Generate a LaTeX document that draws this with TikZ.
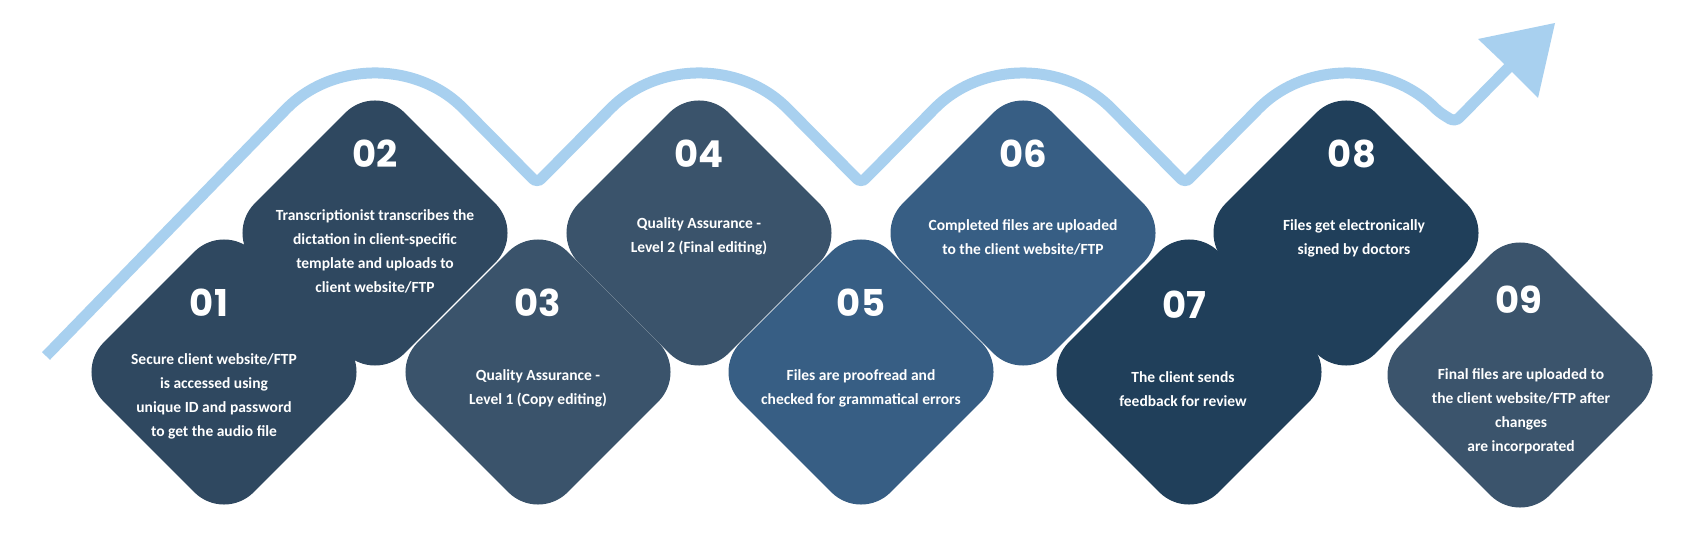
\documentclass[tikz,border=0pt]{standalone}
\usepackage{fontspec}
\setmainfont{Carlito}
\newfontfamily\numfont{Poppins}
\definecolor{cA}{HTML}{2F4860}
\definecolor{cB}{HTML}{3A536B}
\definecolor{cC}{HTML}{375E84}
\definecolor{cD}{HTML}{203F5A}
\definecolor{cE}{HTML}{3B546C}
\definecolor{wave}{HTML}{A8D0EF}
\begin{document}
\begin{tikzpicture}[x=1pt,y=-1pt,
  dia/.style={rectangle,rotate=45,minimum size=212pt,inner sep=0pt,rounded corners=42pt,draw=none},
  num/.style={text=white,font=\numfont\bfseries\fontsize{37}{40}\selectfont},
  txt/.style={text=white,align=center,font=\bfseries\fontsize{15.5}{24}\selectfont}]
\useasboundingbox (0,0) rectangle (1704,537);
\fill[white] (0,0) rectangle (1704,537);
% wave
\draw[wave,line width=11pt,rounded corners=6pt] (46,356) -- (283.1,112.1) arc[start angle=-135,end angle=-45,radius=130]
 -- (537,183) -- (607.1,112.1) arc[start angle=-135,end angle=-45,radius=130]
 -- (861,183) -- (931.1,112.1) arc[start angle=-135,end angle=-45,radius=130]
 -- (1185,183) -- (1255.1,112.1) arc[start angle=-135,end angle=-45,radius=130]
 -- (1455,122) -- (1512,64);
\fill[wave] (1555,23) -- (1478,39) -- (1499,59) -- (1518,78) -- (1538,98) -- cycle;
% diamonds
\node[dia,fill=cA] (d1) at (224,372) {};
\node[dia,fill=cA] (d2) at (375,233) {};
\node[dia,fill=cB] (d3) at (538,372) {};
\node[dia,fill=cB] (d4) at (699,233) {};
\node[dia,fill=cC] (d5) at (861,372) {};
\node[dia,fill=cC] (d6) at (1023,233) {};
\node[dia,fill=cD] (d7) at (1189,372) {};
\node[dia,fill=cD] (d8) at (1346,233) {};
\node[dia,fill=cE] (d9) at (1520,375) {};
% numbers
\node[num] (n1) at (209,303) {01};
\node[num] (n2) at (375,154) {02};
\node[num] (n3) at (538,303) {03};
\node[num] (n4) at (699,154) {04};
\node[num] (n5) at (861,303) {05};
\node[num] (n6) at (1023,154) {06};
\node[num] (n7) at (1184,305) {07};
\node[num] (n8) at (1352,154) {08};
\node[num] (n9) at (1519,300) {09};
% texts
\node[txt] (t1) at (214,396) {Secure client website/FTP\\is accessed using\\unique ID and password\\to get the audio file};
\node[txt] (t2) at (375,251) {Transcriptionist transcribes the\\dictation in client-specific\\template and uploads to\\client website/FTP};
\node[txt] (t3) at (538,388) {Quality Assurance -\\Level 1 (Copy editing)};
\node[txt] (t4) at (699,236) {Quality Assurance -\\Level 2 (Final editing)};
\node[txt] (t5) at (861,388) {Files are proofread and\\checked for grammatical errors};
\node[txt] (t6) at (1023,237) {Completed files are uploaded\\to the client website/FTP};
\node[txt] (t7) at (1183,389) {The client sends\\feedback for review};
\node[txt] (t8) at (1354,238) {Files get electronically\\signed by doctors};
\node[txt] (t9) at (1521,411) {Final files are uploaded to\\the client website/FTP after\\changes\\are incorporated};
\end{tikzpicture}
\end{document}
